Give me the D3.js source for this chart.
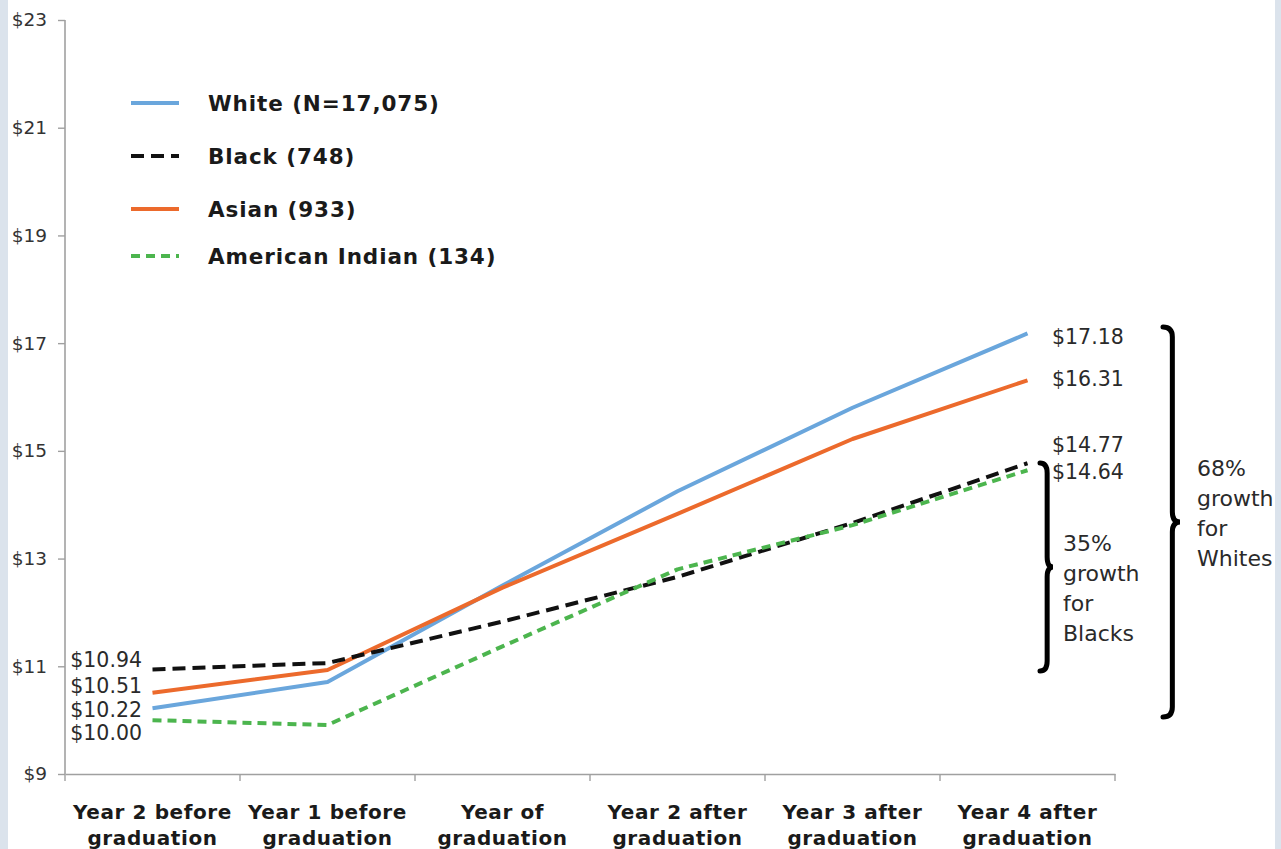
<!DOCTYPE html>
<html>
<head>
<meta charset="utf-8">
<script src="https://cdn.jsdelivr.net/npm/d3@7"></script>
<style>
  html, body { margin: 0; padding: 0; background: #dbe3ec; }
  svg { display: block; }
  text { font-family: "DejaVu Sans", Verdana, sans-serif; }
</style>
</head>
<body>
<svg id="chart" width="1281" height="849"></svg>
<script>
// Median hourly wage by race/ethnicity, two years before to four years after graduation
const periods = [
  ["Year 2 before", "graduation"],
  ["Year 1 before", "graduation"],
  ["Year of", "graduation"],
  ["Year 2 after", "graduation"],
  ["Year 3 after", "graduation"],
  ["Year 4 after", "graduation"]
];
const seriesNames = ["White (N=17,075)", "Black (748)", "Asian (933)", "American Indian (134)"];
const whiteWage   = [10.22, 10.71, 12.50, 14.25, 15.80, 17.18];
const blackWage   = [10.94, 11.06, 11.83, 12.66, 13.66, 14.77];
const asianWage   = [10.51, 10.93, 12.46, 13.83, 15.22, 16.31];
const amIndWage   = [10.00, 9.91, 11.37, 12.80, 13.62, 14.64];
const yTicks = [9, 11, 13, 15, 17, 19, 21, 23];
const blackGrowth = ["35%", "growth", "for", "Blacks"];
const whiteGrowth = ["68%", "growth", "for", "Whites"];

const svg = d3.select("#chart");

// white panel with thin blue-grey margins
svg.append("rect").attr("x", 8).attr("y", 0).attr("width", 1267).attr("height", 849).attr("fill", "#ffffff");

const x = d3.scalePoint().domain(d3.range(periods.length)).range([65, 1115]).padding(0.5);
const xBand = d3.scaleBand().domain(d3.range(periods.length)).range([65, 1115]);
const y = d3.scaleLinear().domain([9, 23]).range([774, 20]);

// axes
const axisColor = "#a0a0a0";
const yAxis = svg.append("g").attr("transform", "translate(65,0)")
  .call(d3.axisLeft(y).tickValues(yTicks).tickFormat(d => "$" + d).tickSize(7).tickPadding(11));
yAxis.attr("font-size", null).attr("font-family", null);
yAxis.select(".domain").attr("stroke", axisColor).attr("stroke-width", 1.6).attr("d", `M0,${y(23)}V${y(9)}`);
yAxis.selectAll(".tick line").attr("stroke", axisColor).attr("stroke-width", 1.4);
yAxis.selectAll(".tick text").attr("fill", "#333").style("font-size", "18.5px");

const xAxis = svg.append("g").attr("transform", `translate(0,${y(9)})`)
  .call(d3.axisBottom(xBand).tickSize(0).tickFormat(""));
xAxis.select(".domain").attr("stroke", axisColor).attr("stroke-width", 1.6);
xAxis.selectAll(".tick").remove();
// ticks between categories
const bounds = d3.range(periods.length + 1).map(i => 65 + i * xBand.step());
xAxis.selectAll("line.sep").data(bounds).join("line").attr("class", "sep")
  .attr("x1", d => d).attr("x2", d => d).attr("y1", 0).attr("y2", 7)
  .attr("stroke", axisColor).attr("stroke-width", 1.4);

// category labels
const catG = svg.append("g");
periods.forEach((lines, i) => {
  const t = catG.append("text").attr("x", x(i)).attr("y", 819)
    .attr("text-anchor", "middle").attr("fill", "#1a1a1a")
    .style("font-size", "20px").style("font-weight", "bold").style("letter-spacing", "0.6px");
  lines.forEach((ln, k) => t.append("tspan").attr("x", x(i)).attr("dy", k === 0 ? 0 : 26).text(ln));
});

// series styling
const series = [
  { name: seriesNames[0], values: whiteWage, color: "#6aa6dc", dash: null },
  { name: seriesNames[1], values: blackWage, color: "#111111", dash: "13,7" },
  { name: seriesNames[2], values: asianWage, color: "#ec6a2c", dash: null },
  { name: seriesNames[3], values: amIndWage, color: "#4cb54e", dash: "9,6" }
];
const drawOrder = [0, 2, 1, 3];

const line = d3.line().x((d, i) => x(i)).y(d => y(d));
drawOrder.forEach(si => {
  const s = series[si];
  svg.append("path").datum(s.values)
    .attr("d", line).attr("fill", "none")
    .attr("stroke", s.color).attr("stroke-width", 4)
    .attr("stroke-dasharray", s.dash)
    .attr("stroke-linejoin", "round");
});

// legend
const legend = svg.append("g");
const legendY = [103, 156, 209, 256];
series.forEach((s, i) => {
  legend.append("line").attr("x1", 131).attr("x2", 179)
    .attr("y1", legendY[i]).attr("y2", legendY[i])
    .attr("stroke", s.color).attr("stroke-width", 4)
    .attr("stroke-dasharray", s.dash);
  legend.append("text").attr("x", 208).attr("y", legendY[i]).attr("dy", "0.35em")
    .attr("fill", "#1a1a1a").style("font-size", "21.5px").style("font-weight", "bold")
    .style("letter-spacing", "0.9px")
    .text(s.name);
});

// start and end value labels
const fmt = d => "$" + d.toFixed(2);
const startOffsets = [2, -10, -7, 13];
const endOffsets = [3, -18, -1, 2];
series.forEach((s, i) => {
  svg.append("text").attr("x", 142).attr("y", y(s.values[0]) + startOffsets[i]).attr("dy", "0.35em")
    .attr("text-anchor", "end").attr("fill", "#2a2a2a").style("font-size", "20.5px")
    .text(fmt(s.values[0]));
  const last = s.values[s.values.length - 1];
  svg.append("text").attr("x", 1052).attr("y", y(last) + endOffsets[i]).attr("dy", "0.35em")
    .attr("fill", "#2a2a2a").style("font-size", "20.5px")
    .text(fmt(last));
});

// curly braces
function brace(xL, y1, y2, w) {
  const ym = (y1 + y2) / 2, xs = xL + w * 0.55, r = 10;
  return `M${xL},${y1} Q${xs},${y1} ${xs},${y1 + r} L${xs},${ym - r} Q${xs},${ym} ${xL + w},${ym}`
       + ` Q${xs},${ym} ${xs},${ym + r} L${xs},${y2 - r} Q${xs},${y2} ${xL},${y2}`;
}
svg.append("path").attr("d", brace(1040, 463, 671, 13))
  .attr("fill", "none").attr("stroke", "#000").attr("stroke-width", 5).attr("stroke-linecap", "round");
svg.append("path").attr("d", brace(1163, 327, 717, 17))
  .attr("fill", "none").attr("stroke", "#000").attr("stroke-width", 5).attr("stroke-linecap", "round");

// growth annotations
function note(lines, x0, y0) {
  const t = svg.append("text").attr("x", x0).attr("y", y0).attr("fill", "#2a2a2a").style("font-size", "22px");
  lines.forEach((ln, k) => t.append("tspan").attr("x", x0).attr("dy", k === 0 ? 0 : 30).text(ln));
}
note(blackGrowth, 1063, 551);
note(whiteGrowth, 1197, 476);
</script>
</body>
</html>
